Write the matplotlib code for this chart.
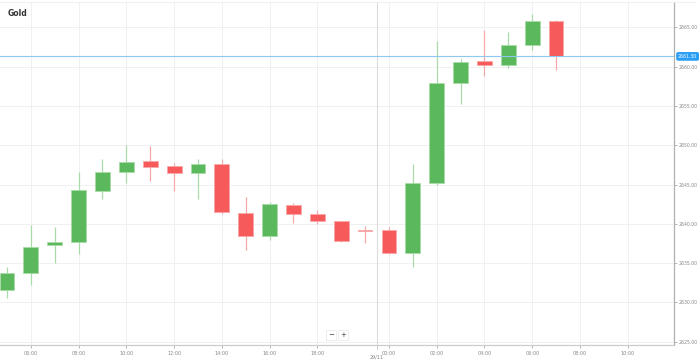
import matplotlib
matplotlib.use("Agg")
import matplotlib.pyplot as plt
from matplotlib.lines import Line2D
import matplotlib.transforms as mtransforms

# ---- data (hourly OHLC, Gold) ----
opens  = [2631.6, 2633.8, 2637.3, 2637.7, 2644.2, 2646.6, 2648.0, 2647.3, 2646.5, 2647.6,
          2641.4, 2638.4, 2642.4, 2641.3, 2640.4, 2639.15, 2639.2, 2636.25, 2645.15, 2657.95,
          2660.7, 2660.2, 2662.75, 2665.85]
highs  = [2634.5, 2639.9, 2639.6, 2646.6, 2648.3, 2650.0, 2649.9, 2647.7, 2648.2, 2648.3,
          2643.4, 2642.8, 2642.7, 2641.7, 2640.4, 2639.7, 2639.55, 2647.6, 2663.2, 2661.0,
          2664.7, 2664.4, 2666.7, 2665.9]
lows   = [2630.5, 2632.2, 2635.0, 2636.1, 2643.2, 2645.2, 2645.4, 2644.2, 2643.2, 2641.2,
          2636.7, 2637.9, 2640.1, 2640.0, 2637.7, 2637.6, 2636.15, 2634.5, 2645.0, 2655.2,
          2658.8, 2659.85, 2662.1, 2659.55]
closes = [2633.7, 2637.1, 2637.65, 2644.3, 2646.6, 2647.9, 2647.2, 2646.4, 2647.6, 2641.5,
          2638.45, 2642.5, 2641.3, 2640.3, 2637.8, 2639.05, 2636.25, 2645.15, 2657.9, 2660.6,
          2660.2, 2662.75, 2665.85, 2661.3]
tick_idx    = [1, 3, 5, 7, 9, 11, 13, 16, 18, 20, 22, 24, 26]
tick_labels = ["06:00", "08:00", "10:00", "12:00", "14:00", "16:00", "18:00",
               "00:00", "02:00", "04:00", "06:00", "08:00", "10:00"]
y_ticks = [2625, 2630, 2635, 2640, 2645, 2650, 2655, 2660, 2665]
day_break = 15.5
day_label = "29/11"
current_price = 2661.30
title = "Gold"

W, H = 699, 364
fig = plt.figure(figsize=(W / 100, H / 100), dpi=100)
ax = fig.add_axes([0, (H - 345) / H, 674 / W, (345 - 2) / H])

GREEN, GREEN_W = "#5cb85c", "#a8dba8"
RED, RED_W = "#f65a5a", "#f8a8a8"

xs = list(range(len(opens)))
for i in xs:
    o, h, l, c = opens[i], highs[i], lows[i], closes[i]
    up = c >= o
    col = GREEN if up else RED
    wcol = GREEN_W if up else RED_W
    ax.vlines(i, l, h, color=wcol, lw=0.9, zorder=2)
    bottom = min(o, c)
    height = max(abs(c - o), 0.12)
    ax.bar(i, height, bottom=bottom, width=0.62, color=col,
           edgecolor=wcol, linewidth=0.6, zorder=3)

ax.set_xlim(-0.293, 27.94)
ax.set_ylim(2624.58, 2668.22)

# grid
for t in tick_idx:
    ax.axvline(t, color="#f0f0f0", lw=0.7, zorder=0)
for y in y_ticks:
    ax.axhline(y, color="#f0f0f0", lw=0.7, zorder=0)
ax.axvline(day_break, color="#dcdcdc", lw=0.8, zorder=1)

# current price line
ax.axhline(current_price, color="#8cc8f0", lw=0.8, zorder=4)

# axes styling
ax.yaxis.tick_right()
ax.set_yticks(y_ticks)
ax.set_yticklabels([f"{v:.2f}" for v in y_ticks])
ax.set_xticks(tick_idx)
ax.set_xticklabels(tick_labels)
ax.tick_params(axis="y", labelsize=3.3, colors="#999999", length=1.8, width=0.5, pad=1.5)
ax.tick_params(axis="x", labelsize=3.5, colors="#999999", length=1.8, width=0.5, pad=2.5)
for lab in ax.get_xticklabels() + ax.get_yticklabels():
    lab.set_color("#888888")
ax.spines["left"].set_visible(False)
ax.spines["top"].set_color("#eeeeee")
ax.spines["top"].set_linewidth(0.6)
ax.spines["right"].set_color("#b0b0b0")
ax.spines["right"].set_linewidth(0.9)
ax.spines["bottom"].set_color("#cccccc")
ax.spines["bottom"].set_linewidth(0.9)

# top border extension to the right
fig.add_artist(Line2D([674 / W, 695 / W], [(H - 2) / H, (H - 2) / H],
                      color="#eeeeee", lw=0.6))

# day label
trans = mtransforms.blended_transform_factory(ax.transData, fig.transFigure)
ax.text(day_break, (H - 357) / H, day_label, transform=trans, ha="center", va="center",
        fontsize=3.5, color="#888888")
ax.plot([day_break, day_break], [(H - 345) / H, (H - 349) / H], transform=trans,
        color="#bbbbbb", lw=0.5, clip_on=False)

# current price tag
ytrans = mtransforms.blended_transform_factory(ax.transAxes, ax.transData)
ax.text(1.006, current_price, f"{current_price:.2f}", transform=ytrans, ha="left",
        va="center", fontsize=3.3, color="white", zorder=6, clip_on=False,
        bbox=dict(boxstyle="round,pad=0.25,rounding_size=0.3", fc="#2a9df4", ec="#2a9df4"))

# title
fig.text(8 / W, (H - 13) / H, title, fontsize=5.5, fontweight="bold", color="#333333",
         ha="left", va="center")

# zoom buttons
for px, s in [(331, "\u2212"), (343, "+")]:
    fig.text(px / W, (H - 335) / H, s, fontsize=5, color="#444444", ha="center", va="center",
             bbox=dict(boxstyle="square,pad=0.25", fc="white", ec="#e6e6e6", lw=0.5))

fig.savefig("out.png", dpi=100)
